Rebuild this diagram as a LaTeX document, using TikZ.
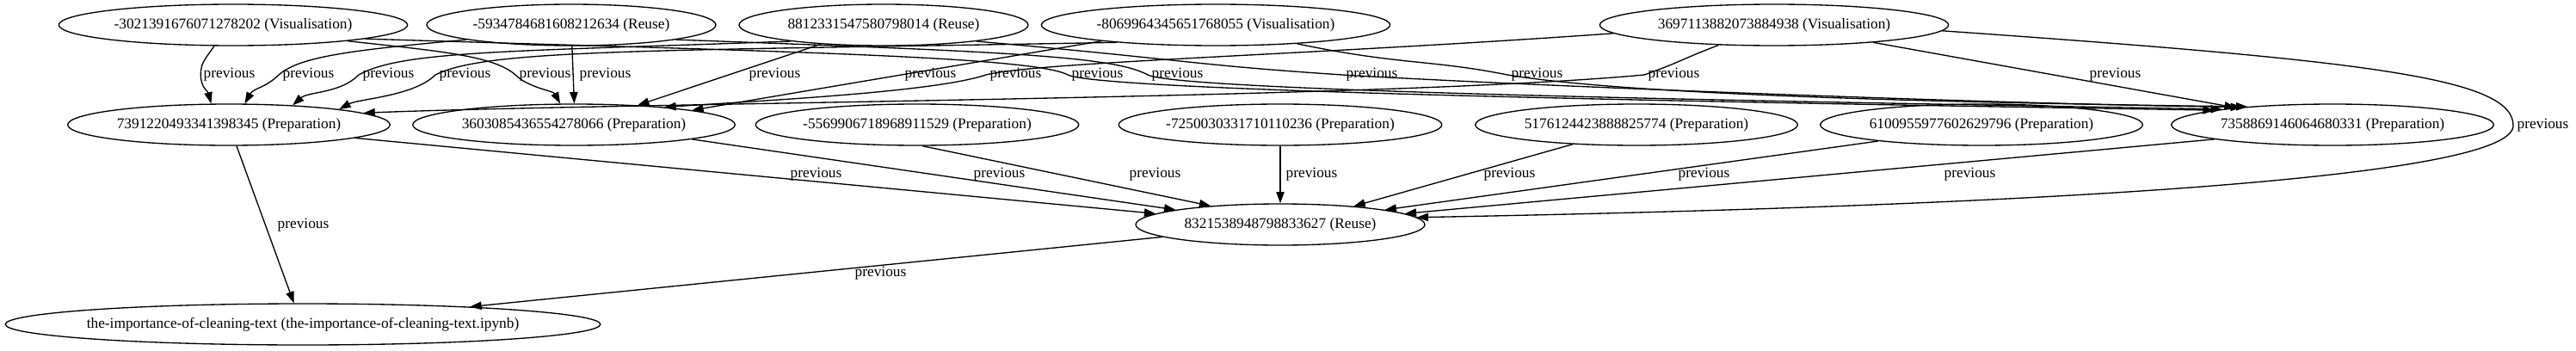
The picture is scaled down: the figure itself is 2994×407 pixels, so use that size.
\documentclass[tikz,border=0pt]{standalone}
\usepackage{fontspec}
\setmainfont{Liberation Serif}
\usetikzlibrary{shapes.geometric,arrows.meta}

\begin{document}
\begin{tikzpicture}[x=0.75pt,y=-0.75pt,line width=1pt,
	cell/.style={ellipse,draw,inner sep=0pt,minimum height=36pt,font=\fontsize{13pt}{15pt}\selectfont},
	vis/.style={cell,minimum width=304pt},
	reu/.style={cell,minimum width=252pt},
	prep/.style={cell,minimum width=281pt},
	lbl/.style={anchor=west,inner sep=0pt,font=\fontsize{13pt}{15pt}\selectfont}]
	\useasboundingbox (0,0) rectangle (2994,407);
	% cells
	\node[vis]  (v1) at ( 271,29) {-3021391676071278202 (Visualisation)};
	\node[reu]  (r1) at ( 664,29) {-5934784681608212634 (Reuse)};
	\node[reu]  (r2) at (1027,29) {8812331547580798014 (Reuse)};
	\node[vis]  (v2) at (1413,29) {-8069964345651768055 (Visualisation)};
	\node[vis]  (v3) at (2062,29) {3697113882073884938 (Visualisation)};
	\node[prep] (p1) at ( 266,145) {7391220493341398345 (Preparation)};
	\node[prep] (p2) at ( 667,145) {3603085436554278066 (Preparation)};
	\node[prep] (p3) at (1066,145) {-5569906718968911529 (Preparation)};
	\node[prep] (p4) at (1488,145) {-7250030331710110236 (Preparation)};
	\node[prep] (p5) at (1902,145) {5176124423888825774 (Preparation)};
	\node[prep] (p6) at (2303,145) {6100955977602629796 (Preparation)};
	\node[prep] (p7) at (2711,145) {7358869146064680331 (Preparation)};
	\node[reu]  (re) at (1488,261) {8321538948798833627 (Reuse)};
	\node[cell,inner xsep=-5pt] (t) at (352,377) {the-importance-of-cleaning-text (the-importance-of-cleaning-text.ipynb)};
	% edge labels
	\foreach \x/\y [count=\i] in {236/87,328/87,421/87,510/87,603/87,673/87,870/87,1051/87,1150/87,1245/87,
		1338/87,1564/87,1756/87,1915/87,2428/87,918/203,1131/203,1312/203,1494/203,1724/203,1950/203,
		2259/203,2925/146,322/262,993/318}
		\node[lbl] (l\i) at (\x,\y) {previous};
	\begin{scope}[->,>={Triangle[length=10pt,width=7pt]}]
	% into p1
	\draw (v1.-132) .. controls +(-10,15) and +(0,-15) .. ([xshift=-2pt]l1.west) .. controls +(0,15) and +(-4,-15) .. (p1.130);
	\draw (r1.-172) .. controls +(-130,12) and +(25,-22) .. ([xshift=-3pt]l2.west) .. controls +(-15,15) and +(10,-18) .. (p1.53);
	\draw (r2.-170) .. controls +(-330,12) and +(50,-28) .. ([xshift=-3pt]l3.west) .. controls +(-22,22) and +(18,-16) .. (p1.17);
	\draw (v2.-170) .. controls +(-550,10) and +(60,-30) .. ([xshift=-3pt]l4.west) .. controls +(-25,25) and +(22,-12) .. (p1.8);
	\draw (v3.-160) .. controls +(-40,15) and +(40,-14) .. ([xshift=-3pt]l14.west) .. controls +(-300,28) and +(300,-12) .. (p1.5);
	% into p2
	\draw (v1.-8) .. controls +(110,12) and +(-25,-22) .. ([xshift=-3pt]l5.west) .. controls +(15,15) and +(-8,-15) .. (p2.123);
	\draw (r1.-88) -- (p2.89);
	\draw (r2.-163) -- (p2.17);
	\draw (v2.-172) -- (p2.7);
	\draw (v3.-177) .. controls +(-350,25) and +(60,-15) .. ([xshift=-3pt]l9.west) .. controls +(-60,20) and +(120,-8) .. (p2.11);
	% into p7
	\draw (v1.-6) .. controls +(450,14) and +(-40,-22) .. ([xshift=-3pt]l10.west) .. controls +(40,20) and +(-500,-8) .. (p7.173);
	\draw (r1.-8) .. controls +(380,14) and +(-40,-22) .. ([xshift=-3pt]l11.west) .. controls +(40,20) and +(-450,-8) .. (p7.172);
	\draw (r2.-10) .. controls +(250,22) and +(-180,-12) .. ([xshift=-3pt]l12.west) .. controls +(200,12) and +(-300,-4) .. (p7.169);
	\draw (v2.-13) .. controls +(120,25) and +(-90,-18) .. ([xshift=-3pt]l13.west) .. controls +(150,25) and +(-300,-4) .. (p7.168);
	\draw (v3.-10) -- (p7.170);
	% into re
	\draw (p1.-6) -- (re.175);
	\draw (p2.-7) -- (re.172);
	\draw (p3.-76) -- (re.165);
	\draw (p4) -- (re);
	\draw (p5.-163) -- (re.14);
	\draw (p6.-171) -- (re.8);
	\draw (p7.-173) -- (re.5);
	\draw (v3.-2) .. controls +(500,35) and +(0,-55) .. ([xshift=-3pt]l23.west) .. controls +(0,65) and +(650,-12) .. (re.3);
	% into t
	\draw (p1.-70) -- (t.113);
	\draw (re.-174) -- (t.6);
	\end{scope}
\end{tikzpicture}
\end{document}
